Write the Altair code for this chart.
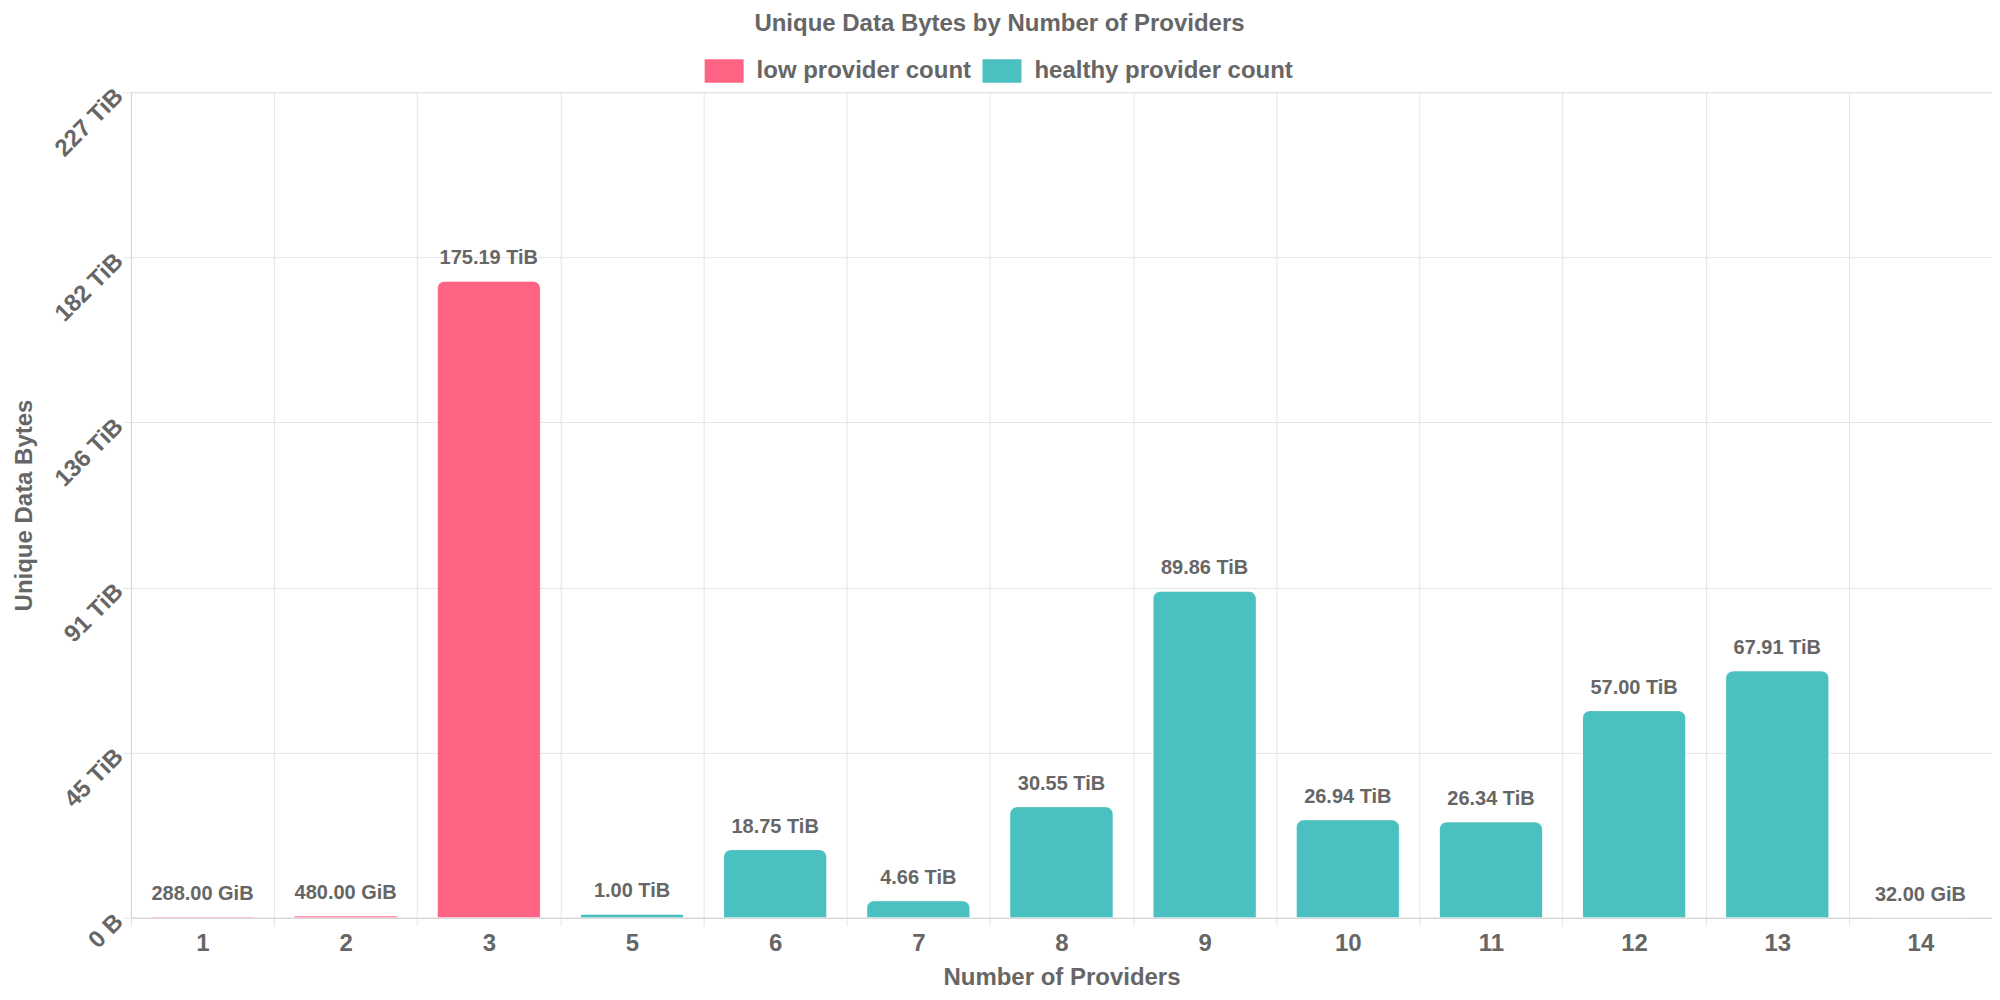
import altair as alt
import pandas as pd

# ---- data ----
providers = ["1", "2", "3", "5", "6", "7", "8", "9", "10", "11", "12", "13", "14"]
bytes_tib = [0.28125, 0.46875, 175.19, 1.00, 18.75, 4.66, 30.55, 89.86,
             26.94, 26.34, 57.00, 67.91, 0.03125]
value_labels = ["288.00 GiB", "480.00 GiB", "175.19 TiB", "1.00 TiB", "18.75 TiB",
                "4.66 TiB", "30.55 TiB", "89.86 TiB", "26.94 TiB", "26.34 TiB",
                "57.00 TiB", "67.91 TiB", "32.00 GiB"]
groups = ["low provider count"] * 3 + ["healthy provider count"] * 10
group_names = ["low provider count", "healthy provider count"]
group_colors = ["#FF6384", "#4BC0C0"]
y_ticks = [0, 45.44, 90.88, 136.32, 181.76, 227.2]
y_tick_labels = ["0 B", "45 TiB", "91 TiB", "136 TiB", "182 TiB", "227 TiB"]

df = pd.DataFrame({"providers": providers, "bytes": bytes_tib,
                   "label": value_labels, "group": groups})

FONT = "Liberation Sans"
GRAY = "#666666"
GRID = "#e5e5e5"
AXIS = "#d4d4d4"
W, H = 1862, 826

label_expr = "[{}][indexof([{}], datum.value)]".format(
    ",".join("'%s'" % s for s in y_tick_labels),
    ",".join(str(v) for v in y_ticks))

x_enc = alt.X("providers:N", sort=providers, title="Number of Providers",
              scale=alt.Scale(paddingInner=0, paddingOuter=0),
              axis=alt.Axis(labelAngle=0, tickBand="extent", tickSize=8,
                            tickColor=GRID, gridColor=GRID, grid=True,
                            domainColor=AXIS, labelFont=FONT, labelFontSize=24,
                            labelFontWeight="bold", labelColor=GRAY, labelPadding=6,
                            titleFont=FONT, titleFontSize=24, titleFontWeight="bold",
                            titleColor=GRAY, titlePadding=10))

y_enc = alt.Y("bytes:Q", scale=alt.Scale(domain=[0, 227.2], nice=False, zero=True),
              axis=alt.Axis(values=y_ticks, labelExpr=label_expr, labelAngle=315,
                            labelAlign="right", labelBaseline="middle",
                            labelFont=FONT, labelFontSize=24, labelFontWeight="bold",
                            labelColor=GRAY, labelPadding=4, tickSize=8,
                            tickColor=GRID, gridColor=GRID, domainColor=AXIS,
                            title="Unique Data Bytes", titleFont=FONT, titleFontSize=24,
                            titleFontWeight="bold", titleColor=GRAY, titleX=-106,
                            titleY=H / 2, titleAngle=270, titleAlign="center",
                            titleBaseline="middle"))

color_enc = alt.Color("group:N",
                      scale=alt.Scale(domain=group_names, range=group_colors),
                      legend=alt.Legend(orient="none", legendX=574, legendY=-41,
                                        direction="horizontal", columns=2, title=None,
                                        symbolType="M-1,-0.6H1V0.6H-1Z", symbolSize=1521,
                                        symbolStrokeWidth=0, symbolOpacity=1,
                                        labelFont=FONT, labelFontSize=24,
                                        labelFontWeight="bold", labelColor=GRAY,
                                        labelLimit=1000,
                                        labelOffset=13, columnPadding=11, padding=0))

base = alt.Chart(df)

bars = base.mark_bar(cornerRadiusTopLeft=8, cornerRadiusTopRight=8,
                     width=alt.RelativeBandSize(0.72), stroke="white",
                     strokeOpacity=0.3, strokeWidth=1).encode(
    x=x_enc, y=y_enc, color=color_enc)

texts = base.mark_text(dy=-23, fontSize=20, fontWeight="bold", color=GRAY,
                       font=FONT, baseline="middle").encode(
    x=alt.X("providers:N", sort=providers),
    y=alt.Y("bytes:Q"),
    text="label:N")

chart = alt.layer(bars, texts).properties(
    width=W, height=H,
    title=alt.Title("Unique Data Bytes by Number of Providers", font=FONT, fontSize=24,
                    fontWeight="bold", color=GRAY, anchor="middle", dx=-62, dy=-11),
    autosize=alt.AutoSizeParams(type="none"),
    padding={"left": 123, "top": 84, "right": 0, "bottom": 72},
).configure_view(stroke="transparent").configure(background="white")

chart.save("out.html", embed_options={"renderer": "svg", "actions": False})
